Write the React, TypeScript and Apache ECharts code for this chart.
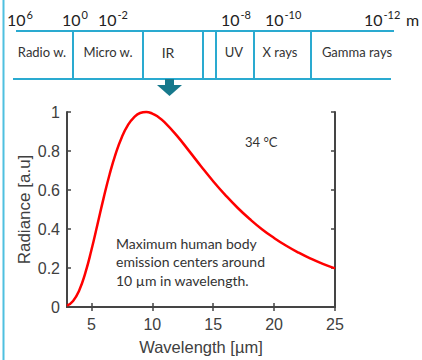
import React, { useEffect, useRef } from "react";
import * as echarts from "echarts";

// Curve data
const wavelengths = [3, 3.5, 4, 4.5, 5, 5.5, 6, 6.5, 7, 7.5, 8, 8.5, 9, 9.5, 10, 10.5, 11, 12, 13, 14, 15, 16, 17, 18, 19, 20, 21, 22, 23, 24, 25];
const radiance = [0.007, 0.031, 0.085, 0.174, 0.291, 0.423, 0.557, 0.681, 0.787, 0.871, 0.933, 0.973, 0.995, 1.0, 0.992, 0.974, 0.948, 0.88, 0.802, 0.722, 0.645, 0.574, 0.509, 0.451, 0.399, 0.354, 0.314, 0.279, 0.248, 0.221, 0.198];
const xTickValues = [5, 10, 15, 20, 25];

// Spectrum bar texts
const bandLabels = ["Radio w.", "Micro w.", "IR", "UV", "X rays", "Gamma rays"];
const powerExponents = ["6", "0", "-2", "-8", "-10", "-12"];
const tempLabel = "34 °C";
const noteLabel = "Maximum human body\nemission centers around\n10 µm in wavelength.";

// Layout (pixel positions of the diagram)
const bandCenters = [42, 108, 168, 234, 280, 357];
const dividerXs = [73, 143, 203, 216, 254, 311];
const powerXs = [7, 62, 98, 221, 265, 364];

const LINE = "#2aaad0";
const AXIS = "#454545";
const TXT = "#404040";
const CAL = "Lato, 'Open Sans', sans-serif";
const ARI = "'Liberation Sans', Arial, sans-serif";

export default function App() {
  const ref = useRef<HTMLDivElement>(null);
  useEffect(() => {
    if (!ref.current) return;
    const chart = echarts.init(ref.current, null, { renderer: "svg" });
    const graphics: any[] = [];
    graphics.push({ type: "line", shape: { x1: 3.5, y1: 0, x2: 3.5, y2: 360 }, style: { stroke: "#4fc0e0", lineWidth: 2 } });
    graphics.push({ type: "line", shape: { x1: 16, y1: 31, x2: 394, y2: 31 }, style: { stroke: LINE, lineWidth: 2 } });
    graphics.push({ type: "line", shape: { x1: 13, y1: 79, x2: 391, y2: 79 }, style: { stroke: LINE, lineWidth: 2 } });
    dividerXs.forEach((x) => {
      graphics.push({ type: "line", shape: { x1: x, y1: 31, x2: x, y2: 79 }, style: { stroke: LINE, lineWidth: 2 } });
    });
    bandLabels.forEach((t, i) => {
      graphics.push({
        type: "text", x: bandCenters[i], y: 52,
        style: { text: t, fill: "#333", font: `${t === "IR" ? 14 : 13}px ${CAL}`, align: "center", verticalAlign: "middle" },
      });
    });
    powerExponents.forEach((p, i) => {
      const x = powerXs[i];
      graphics.push({ type: "text", x, y: 19, style: { text: "10", fill: "#222", font: `16px ${CAL}`, align: "left", verticalAlign: "middle" } });
      graphics.push({ type: "text", x: x + 19.5, y: 14, style: { text: p, fill: "#222", font: `11px ${CAL}`, align: "left", verticalAlign: "middle" } });
    });
    graphics.push({ type: "text", x: 406, y: 19, style: { text: "m", fill: "#222", font: `16px ${CAL}`, align: "left", verticalAlign: "middle" } });
    // arrow
    graphics.push({ type: "rect", shape: { x: 165, y: 79, width: 9, height: 7 }, style: { fill: "#17798c" } });
    graphics.push({ type: "polygon", shape: { points: [[157, 85], [182, 85], [169.5, 96]] }, style: { fill: "#17798c" } });
    // annotations
    graphics.push({ type: "text", x: 245, y: 142, style: { text: tempLabel, fill: "#333", font: `13px ${CAL}`, align: "left", verticalAlign: "middle" } });
    graphics.push({ type: "text", x: 116, y: 234, style: { text: noteLabel, fill: "#333", font: `14px ${CAL}`, lineHeight: 18.5, align: "left", verticalAlign: "top" } });

    const tickStyle = { color: AXIS, width: 1.5 };
    chart.setOption({
      animation: false,
      grid: { left: 67, right: 87, top: 112, bottom: 52 },
      xAxis: [
        {
          type: "value", min: 3, max: 25, position: "bottom",
          axisLine: { show: true, lineStyle: { color: AXIS, width: 2 } },
          axisTick: { show: true, inside: true, length: 4, customValues: xTickValues, lineStyle: tickStyle },
          axisLabel: { customValues: xTickValues, color: TXT, fontSize: 16, fontFamily: ARI, margin: 9 },
          splitLine: { show: false },
          name: "Wavelength [µm]", nameLocation: "middle", nameGap: 31, nameMoveOverlap: false,
          nameTextStyle: { color: TXT, fontSize: 16.5, fontFamily: ARI },
        },
        {
          type: "value", min: 3, max: 25, position: "top",
          axisLine: { show: true, lineStyle: { color: AXIS, width: 2 } },
          axisTick: { show: true, inside: true, length: 4, customValues: xTickValues, lineStyle: tickStyle },
          axisLabel: { show: false },
          splitLine: { show: false },
        },
      ],
      yAxis: [
        {
          type: "value", min: 0, max: 1, interval: 0.2, position: "left",
          axisLine: { show: true, lineStyle: { color: AXIS, width: 2 } },
          axisTick: { show: true, inside: true, length: 4, lineStyle: tickStyle },
          axisLabel: { color: TXT, fontSize: 16, fontFamily: ARI, margin: 7 },
          splitLine: { show: false },
          name: "Radiance [a.u]", nameLocation: "middle", nameGap: 34, nameMoveOverlap: false,
          nameTextStyle: { color: TXT, fontSize: 17, fontFamily: ARI },
        },
        {
          type: "value", min: 0, max: 1, interval: 0.2, position: "right",
          axisLine: { show: true, lineStyle: { color: AXIS, width: 2 } },
          axisTick: { show: true, inside: true, length: 4, lineStyle: tickStyle },
          axisLabel: { show: false },
          splitLine: { show: false },
        },
      ],
      series: [
        {
          type: "line", xAxisIndex: 0, yAxisIndex: 0,
          data: wavelengths.map((w, i) => [w, radiance[i]]),
          showSymbol: false, smooth: true,
          lineStyle: { color: "#ff0000", width: 2.5 },
          clip: false,
        },
      ],
      graphic: graphics,
    });
    return () => chart.dispose();
  }, []);
  return <div ref={ref} style={{ position: "absolute", left: 0, top: 0, width: 422, height: 360 }} />;
}
